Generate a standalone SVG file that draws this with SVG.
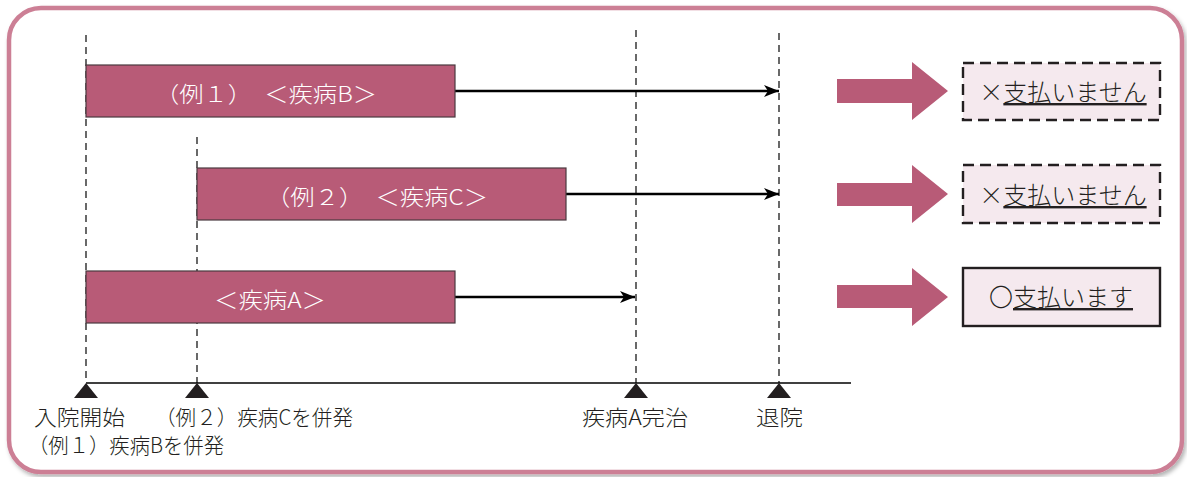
<svg xmlns="http://www.w3.org/2000/svg" width="1187" height="477" viewBox="0 0 1187 477">
<style>
.t{font-family:"Noto Sans CJK JP","Noto Sans",sans-serif;font-weight:300;}
.bar{fill:#b85b77;stroke:#4a3a40;stroke-width:1.2;}
.bt{fill:#ffffff;font-size:22px;text-anchor:middle;}
.lbl{fill:#231f20;font-size:21px;}
.vd{stroke:#444;stroke-width:1.6;stroke-dasharray:7 5;fill:none;}
.conn{stroke:#000;stroke-width:2.4;fill:none;marker-end:url(#ah);}
.big{fill:#b85b77;}
.box{fill:#f5e9ee;stroke:#231f20;stroke-width:2.4;}
.dash{stroke-dasharray:11 6;}
.res{fill:#231f20;font-size:24px;}
.u{text-decoration:underline;}
.tri{fill:#231f20;}
</style>
<defs>
<marker id="ah" markerWidth="16" markerHeight="12" refX="15" refY="6" orient="auto" markerUnits="userSpaceOnUse">
<path d="M0,0 L15,6 L0,12 L4,6 Z" fill="#000"/>
</marker>
<filter id="sh" x="-5%" y="-5%" width="110%" height="112%">
<feDropShadow dx="2" dy="3" stdDeviation="2" flood-color="#000" flood-opacity="0.3"/>
</filter>
</defs>
<rect x="9" y="8" width="1173" height="464" rx="32" ry="32" fill="#ffffff" stroke="#cc7f95" stroke-width="4.5" filter="url(#sh)"/>
<g id="guides">
<line class="vd" x1="86" y1="35" x2="86" y2="383"/>
<line class="vd" x1="197" y1="137" x2="197" y2="383"/>
<line class="vd" x1="636" y1="30" x2="636" y2="383"/>
<line class="vd" x1="779" y1="33" x2="779" y2="383"/>
</g>
<g id="timeline">
<line x1="86" y1="383" x2="851" y2="383" stroke="#000" stroke-width="1.6"/>
<polygon class="tri" points="86,383 74,398 98,398"/>
<polygon class="tri" points="197,383 185,398 209,398"/>
<polygon class="tri" points="636,383 624,398 648,398"/>
<polygon class="tri" points="779,383 767,398 791,398"/>
</g>
<g id="connectors">
<line class="conn" x1="455" y1="91" x2="779" y2="91"/>
<line class="conn" x1="566" y1="194" x2="779" y2="194"/>
<line class="conn" x1="455" y1="297" x2="635" y2="297"/>
</g>
<g id="barB">
<rect class="bar" x="86" y="65" width="369" height="52"/>
<text class="t bt" x="266" y="102" textLength="222" lengthAdjust="spacingAndGlyphs">（例１）　＜疾病B＞</text>
</g>
<g id="barC">
<rect class="bar" x="197" y="168" width="369" height="52"/>
<text class="t bt" x="377" y="205" textLength="222" lengthAdjust="spacingAndGlyphs">（例２）　＜疾病C＞</text>
</g>
<g id="barA">
<rect class="bar" x="86" y="271" width="369" height="52"/>
<text class="t bt" x="270" y="308" textLength="112" lengthAdjust="spacingAndGlyphs">＜疾病A＞</text>
</g>
<g id="labels">
<text class="t lbl" x="34" y="425" textLength="91" lengthAdjust="spacingAndGlyphs">入院開始</text>
<text class="t lbl" x="28" y="453" textLength="196" lengthAdjust="spacingAndGlyphs">（例１）疾病Bを併発</text>
<text class="t lbl" x="155" y="425" textLength="198" lengthAdjust="spacingAndGlyphs">（例２）疾病Cを併発</text>
<text class="t lbl" x="582" y="425" textLength="106" lengthAdjust="spacingAndGlyphs">疾病A完治</text>
<text class="t lbl" x="756" y="425" textLength="47" lengthAdjust="spacingAndGlyphs">退院</text>
</g>
<g id="arrow1"><polygon class="big" points="837,79 912,79 912,62 948,91 912,120 912,103 837,103"/></g>
<g id="arrow2"><polygon class="big" points="837,183 912,183 912,165 948,194 912,223 912,206 837,206"/></g>
<g id="arrow3"><polygon class="big" points="837,285 912,285 912,268 948,297 912,326 912,308 837,308"/></g>
<g id="resultB">
<rect class="box dash" x="963" y="63" width="197" height="57"/>
<text class="t res" x="1063" y="101" text-anchor="middle">×<tspan class="u">支払いません</tspan></text>
</g>
<g id="resultC">
<rect class="box dash" x="963" y="165" width="197" height="58"/>
<text class="t res" x="1063" y="204" text-anchor="middle">×<tspan class="u">支払いません</tspan></text>
</g>
<g id="resultA">
<rect class="box" x="963" y="268" width="197" height="58"/>
<text class="t res" x="1061" y="306" text-anchor="middle">〇<tspan class="u">支払います</tspan></text>
</g>
</svg>
